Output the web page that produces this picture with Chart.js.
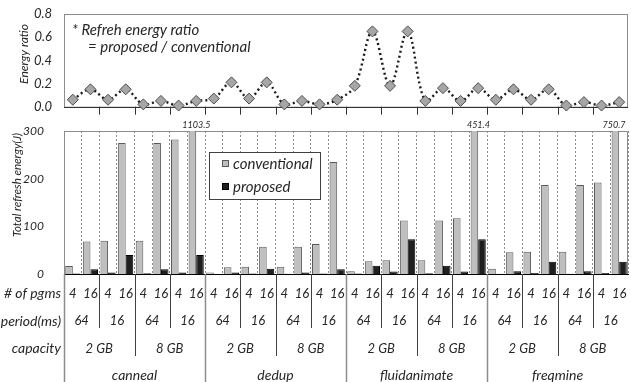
<!DOCTYPE html>
<html>
<head>
<meta charset="utf-8">
<script src="https://cdn.jsdelivr.net/npm/chart.js@4.4.1/dist/chart.umd.min.js"></script>
<style>
  html, body { margin: 0; padding: 0; background: #fff; }
  #wrap { position: relative; width: 631px; height: 382px; overflow: hidden; }
  #ratioChart { position: absolute; left: 0; top: 0; }
  #energyChart { position: absolute; left: 0; top: 118px; }
</style>
</head>
<body>
<div id="wrap">
  <canvas id="ratioChart" width="631" height="118"></canvas>
  <canvas id="energyChart" width="631" height="264"></canvas>
</div>
<script>
// category levels (innermost last)
const benchmarks = ["canneal", "dedup", "fluidanimate", "freqmine"];
const capacities = ["2 GB", "8 GB"];
const periods = ["64", "16"];
const pgms = ["4", "16"];
const rowNames = ["# of pgms", "period(ms)", "capacity"];

// total refresh energy (J)
const conventional = [17, 68, 70, 275, 70, 275, 282, 1103.5,
                      3, 14, 15, 57, 15, 57, 63, 235,
                      6, 27, 29, 112.5, 29, 112.5, 116.7, 451.4,
                      11, 45.4, 46.8, 186.6, 46.8, 186.6, 192, 750.7];
const proposed = [1, 10, 3, 40, 1.4, 10, 3, 40,
                  0.2, 3, 1, 11, 0.3, 3, 1, 10,
                  1, 17.5, 5, 72.7, 1.4, 17.5, 5, 72.7,
                  0.6, 6, 2, 25.8, 0.5, 6, 2, 25.8];

// proposed / conventional
const ratio = [0.06, 0.15, 0.06, 0.15, 0.02, 0.05, 0.01, 0.05,
               0.07, 0.21, 0.07, 0.21, 0.02, 0.05, 0.02, 0.06,
               0.18, 0.65, 0.18, 0.65, 0.05, 0.16, 0.05, 0.16,
               0.06, 0.15, 0.06, 0.15, 0.01, 0.04, 0.01, 0.04];

const noteLines = ["* Refreh energy ratio", "= proposed / conventional"];

// one label per bar pair: the # of pgms value
const labels = [];
benchmarks.forEach(() => capacities.forEach(() => periods.forEach(() => pgms.forEach(p => labels.push(p)))));

const PLOT_LEFT = 64;
const TEXT = "#262626";
const FAM = "Lato, 'Open Sans', sans-serif";

function italic(size) { return "italic " + size + "px " + FAM; }

// keep the axis at a fixed width and stop tick padding from pushing the plot area
function fixAxis(s) {
  s.width = PLOT_LEFT;
  s.paddingTop = 0;
  s.paddingBottom = 0;
}

// pixel x of the boundary before category k
function boundary(chart, k) {
  const x = chart.scales.x;
  if (k <= 0) return chart.chartArea.left;
  if (k >= labels.length) return chart.chartArea.right;
  return (x.getPixelForValue(k - 1) + x.getPixelForValue(k)) / 2;
}

function vTitle(ctx, text, cx, cy, size) {
  ctx.save();
  ctx.translate(cx, cy);
  ctx.rotate(-Math.PI / 2);
  ctx.font = italic(size);
  ctx.fillStyle = TEXT;
  ctx.textAlign = "center";
  ctx.textBaseline = "middle";
  ctx.fillText(text, 0, 0);
  ctx.restore();
}

const ratioExtras = {
  id: "ratioExtras",
  beforeDatasetsDraw(chart) {
    const { ctx, chartArea: a } = chart;
    ctx.save();
    ctx.strokeStyle = "#8c8c8c";
    ctx.lineWidth = 1;
    ctx.strokeRect(a.left + 0.5, a.top + 0.5, a.right - a.left - 1, a.bottom - a.top);
    ctx.strokeStyle = "#333";
    ctx.beginPath();
    ctx.moveTo(a.left, Math.round(a.bottom) + 0.5);
    ctx.lineTo(a.right, Math.round(a.bottom) + 0.5);
    for (let k = 2; k < labels.length; k += 2) {
      const px = Math.round(boundary(chart, k)) + 0.5;
      ctx.moveTo(px, a.bottom);
      ctx.lineTo(px, a.bottom + 8);
    }
    ctx.stroke();

    ctx.font = italic(15);
    ctx.fillStyle = TEXT;
    ctx.textBaseline = "middle";
    ctx.fillText(noteLines[0], a.left + 8, 30);
    ctx.fillText(noteLines[1], a.left + 24, 47);
    ctx.restore();
    vTitle(ctx, "Energy ratio", 24, 54, 12);
  }
};

const energyExtras = {
  id: "energyExtras",
  beforeDatasetsDraw(chart) {
    const { ctx, chartArea: a } = chart;
    ctx.save();
    ctx.strokeStyle = "#8c8c8c";
    ctx.lineWidth = 1;
    ctx.beginPath();
    ctx.moveTo(a.left, a.top + 0.5);
    ctx.lineTo(a.right - 0.5, a.top + 0.5);
    ctx.lineTo(a.right - 0.5, a.bottom);
    ctx.stroke();
    ctx.restore();
  },
  afterDatasetsDraw(chart) {
    const { ctx, chartArea: a } = chart;
    const sets = chart.data.datasets;
    ctx.save();

    // values cut off by the axis
    const bars = chart.getDatasetMeta(0).data;
    ctx.font = italic(9);
    ctx.fillStyle = TEXT;
    ctx.textAlign = "center";
    ctx.textBaseline = "middle";
    sets[0].data.forEach((v, i) => {
      if (v > chart.scales.y.max) ctx.fillText(v.toFixed(1), Math.min(bars[i].x + 4, a.right - 14), 7);
    });

    // legend
    const lx = 209, ly = 34;
    ctx.fillStyle = "#fff";
    ctx.fillRect(lx, ly, 111, 47);
    ctx.strokeStyle = "#404040";
    ctx.strokeRect(lx + 0.5, ly + 0.5, 111, 47);
    ctx.font = italic(15);
    ctx.textAlign = "left";
    sets.forEach((ds, i) => {
      const y = ly + 12 + i * 23;
      ctx.fillStyle = ds.backgroundColor;
      ctx.fillRect(lx + 13, y - 4, 7, 7);
      ctx.strokeStyle = ds.borderColor;
      ctx.strokeRect(lx + 13.5, y - 3.5, 6, 6);
      ctx.fillStyle = TEXT;
      ctx.fillText(ds.label, lx + 24, y);
    });
    ctx.restore();
  },
  afterDraw(chart) {
    const { ctx, chartArea: a, height } = chart;
    const x = chart.scales.x;
    const rows = [a.bottom + 19.5, a.bottom + 47, a.bottom + 74.5, a.bottom + 101];
    ctx.save();

    // separators: longer for outer groups
    for (let k = 0; k < labels.length; k += 2) {
      let end = a.bottom + 54;
      if (k % 8 === 0) end = height;
      else if (k % 4 === 0) end = a.bottom + 82;
      const px = Math.round(boundary(chart, k)) + 0.5;
      ctx.strokeStyle = k % 8 === 0 ? "#8c8c8c" : "#404040";
      ctx.lineWidth = k % 8 === 0 ? 1.5 : 1;
      ctx.beginPath();
      ctx.moveTo(px, a.bottom);
      ctx.lineTo(px, end);
      ctx.stroke();
    }

    ctx.fillStyle = TEXT;
    ctx.textBaseline = "middle";
    ctx.textAlign = "right";
    ctx.font = italic(14);
    rowNames.forEach((t, r) => ctx.fillText(t, PLOT_LEFT - 3, rows[r]));

    ctx.textAlign = "center";
    ctx.font = italic(13);
    labels.forEach((t, i) => ctx.fillText(t, x.getPixelForValue(i), rows[0]));
    const groups = [[2, periods], [4, capacities], [8, benchmarks]];
    groups.forEach(([size, names], r) => {
      ctx.font = italic(r === 2 ? 14 : 13);
      for (let k = 0; k < labels.length; k += size) {
        const cx = (boundary(chart, k) + boundary(chart, k + size)) / 2;
        ctx.fillText(names[(k / size) % names.length], cx, rows[r + 1]);
      }
    });
    ctx.restore();
    vTitle(ctx, "Total refresh energy(J)", 17, 67, 11.5);
  }
};

function draw() {
  new Chart(document.getElementById("ratioChart"), {
    type: "line",
    data: {
      labels: labels,
      datasets: [{
        label: "ratio",
        data: ratio,
        borderColor: "#1a1a1a",
        borderWidth: 2.4,
        borderDash: [2, 3],
        tension: 0.35,
        pointStyle: "rectRot",
        pointRadius: 5.5,
        pointBackgroundColor: "#a6a6a6",
        pointBorderColor: "#4d4d4d",
        pointBorderWidth: 1,
        clip: false
      }]
    },
    options: {
      responsive: false,
      animation: false,
      layout: { autoPadding: false, padding: { left: 0, right: 3, top: 14, bottom: 11.3 } },
      plugins: { legend: { display: false }, tooltip: { enabled: false } },
      scales: {
        x: { type: "category", offset: true, display: false },
        y: {
          min: 0, max: 0.8,
          afterFit: fixAxis,
          grid: { display: false, drawTicks: false },
          border: { display: false },
          ticks: {
            stepSize: 0.2, padding: 12, color: TEXT,
            font: { family: FAM, style: "italic", size: 13 },
            callback: v => v.toFixed(1)
          }
        }
      }
    },
    plugins: [ratioExtras]
  });

  new Chart(document.getElementById("energyChart"), {
    type: "bar",
    data: {
      labels: labels,
      datasets: [
        { label: "conventional", data: conventional, backgroundColor: "#bfbfbf", borderColor: "#595959", borderWidth: 1 },
        { label: "proposed", data: proposed, backgroundColor: "#1f1f1f", borderColor: "#000", borderWidth: 1 }
      ]
    },
    options: {
      responsive: false,
      animation: false,
      layout: { autoPadding: false, padding: { left: 0, right: 3, top: 13, bottom: 108 } },
      plugins: { legend: { display: false }, tooltip: { enabled: false } },
      datasets: { bar: { categoryPercentage: 0.86, barPercentage: 1 } },
      scales: {
        x: {
          type: "category", offset: true,
          grid: { display: true, drawTicks: false, color: "#8c8c8c", offset: true },
          border: { display: true, color: "#000", width: 1, dash: [2, 2] },
          ticks: { display: false }
        },
        y: {
          min: 0, max: 300,
          afterFit: fixAxis,
          grid: { display: false, drawTicks: false },
          border: { display: true, color: "#8c8c8c" },
          ticks: {
            stepSize: 100, padding: 20, color: TEXT,
            font: { family: FAM, style: "italic", size: 12 }
          }
        }
      }
    },
    plugins: [energyExtras]
  });
}

document.fonts.load(italic(14)).then(draw, draw);
</script>
</body>
</html>
